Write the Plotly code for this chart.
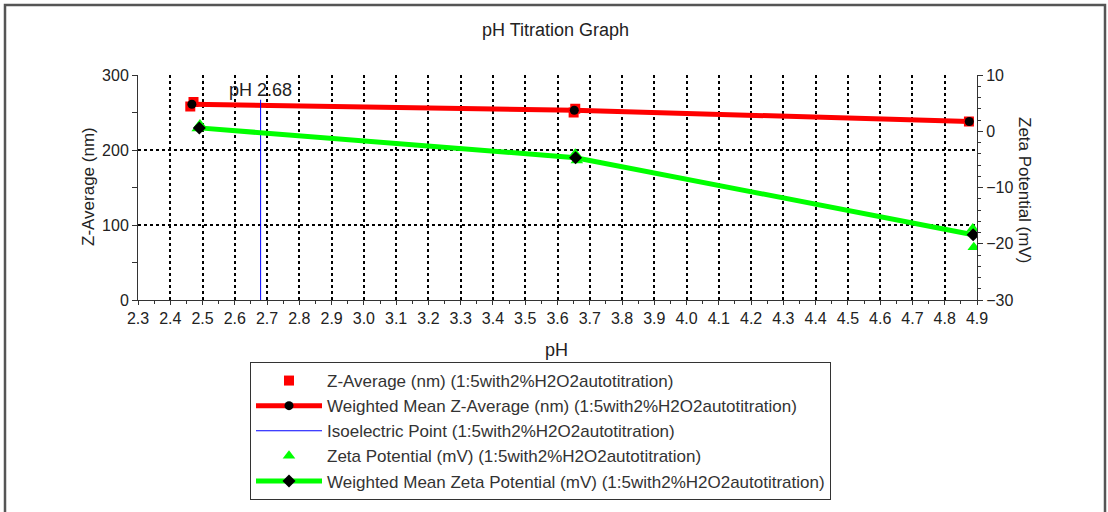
import plotly.graph_objects as go

# ---- data ----
ph_zavg = [2.462, 2.472, 3.650, 3.655, 4.875]
zavg_nm = [258, 264, 250, 255, 238]

ph_wm_z = [2.467, 3.652, 4.876]
wm_z_nm = [261, 253, 238]

iep_ph = 2.68
iep_label = "pH 2.68"

ph_zeta = [2.485, 2.492, 3.655, 3.660, 4.887, 4.890]
zeta_mv = [0.5, 1.2, -4.0, -5.2, -17.3, -20.6]

ph_wm_zeta = [2.490, 3.656, 4.888]
wm_zeta_mv = [0.6, -4.7, -18.4]

x_ticks = [round(2.3 + 0.1 * i, 1) for i in range(27)]
x_ticklabels = [f"{v:.1f}" for v in x_ticks]

FONT = "Liberation Sans, Arial, sans-serif"
TXT = "#222222"
suffix = " (1:5with2%H2O2autotitration)"

fig = go.Figure()

fig.add_trace(go.Scatter(
    x=ph_zavg, y=zavg_nm, mode="markers",
    marker=dict(symbol="square", size=10, color="#ff0000"),
    name="Z-Average (nm)" + suffix, yaxis="y"))

fig.add_trace(go.Scatter(
    x=ph_wm_z, y=wm_z_nm, mode="lines+markers",
    line=dict(color="#ff0000", width=5),
    marker=dict(symbol="circle", size=9, color="#000000"),
    name="Weighted Mean Z-Average (nm)" + suffix, yaxis="y"))

fig.add_trace(go.Scatter(
    x=[iep_ph, iep_ph], y=[0, 267], mode="lines",
    line=dict(color="#0000ff", width=1),
    name="Isoelectric Point" + suffix, yaxis="y"))

fig.add_trace(go.Scatter(
    x=ph_zeta, y=zeta_mv, mode="markers",
    marker=dict(symbol="triangle-up", size=11, color="#00ff00"),
    name="Zeta Potential (mV)" + suffix, yaxis="y2"))

fig.add_trace(go.Scatter(
    x=ph_wm_zeta, y=wm_zeta_mv, mode="lines+markers",
    line=dict(color="#00ff00", width=5),
    marker=dict(symbol="diamond", size=10, color="#000000"),
    name="Weighted Mean Zeta Potential (mV)" + suffix, yaxis="y2"))

grid = dict(showgrid=True, gridcolor="#000000", gridwidth=2, griddash="dot")

PW, PL, PB, PT = 839, 138, 300, 75
PH = PB - PT


def px_x(px):
    return (px - PL) / PW


def px_y(py):
    return (PB - py) / PH


fig.update_layout(
    width=1108, height=512,
    margin=dict(l=138, r=131, t=75, b=212),
    paper_bgcolor="white", plot_bgcolor="white",
    font=dict(family=FONT, size=16, color=TXT),
    showlegend=True,
    xaxis=dict(
        range=[2.3, 4.9], tickvals=x_ticks, ticktext=x_ticklabels,
        showline=True, linecolor="#333333", linewidth=1,
        ticks="outside", ticklen=4, tickcolor="#333333",
        minor=dict(dtick=0.05, tick0=2.3, ticks="outside", ticklen=3, tickcolor="#333333", showgrid=False),
        zeroline=False, tickfont=dict(size=16), **grid),
    yaxis=dict(
        range=[0, 300], tickvals=[0, 100, 200, 300],
        showline=True, linecolor="#333333", linewidth=1,
        ticks="outside", ticklen=5, tickcolor="#333333",
        minor=dict(dtick=50, ticks="outside", ticklen=5, tickcolor="#333333", showgrid=False),
        zeroline=False, tickfont=dict(size=16), **grid),
    yaxis2=dict(
        range=[-30, 10], tickvals=[-30, -20, -10, 0, 10], overlaying="y", side="right",
        showline=True, linecolor="#333333", linewidth=1,
        ticks="outside", ticklen=5, tickcolor="#333333",
        minor=dict(dtick=2, ticks="outside", ticklen=3, tickcolor="#333333", showgrid=False),
        showgrid=False, zeroline=False, tickfont=dict(size=16)),
    legend=dict(
        x=px_x(250), y=px_y(500), xanchor="left", yanchor="bottom",
        bordercolor="#333333", borderwidth=1, bgcolor="white",
        font=dict(size=17, color="#333333"), tracegroupgap=0, itemwidth=66),
    annotations=[
        dict(text="pH Titration Graph", xref="paper", yref="paper", x=px_x(555), y=px_y(30),
             xanchor="center", yanchor="middle", showarrow=False, font=dict(size=18, color=TXT)),
        dict(text="pH", xref="paper", yref="paper", x=px_x(556), y=px_y(350),
             xanchor="center", yanchor="middle", showarrow=False, font=dict(size=18, color=TXT)),
        dict(text="Z-Average (nm)", xref="paper", yref="paper", x=px_x(88), y=px_y(187),
             xanchor="center", yanchor="middle", textangle=-90, showarrow=False, font=dict(size=17, color=TXT)),
        dict(text="Zeta Potential (mV)", xref="paper", yref="paper", x=px_x(1025), y=px_y(190),
             xanchor="center", yanchor="middle", textangle=90, showarrow=False, font=dict(size=17, color=TXT)),
        dict(text=iep_label, x=iep_ph, y=280, xref="x", yref="y",
             xanchor="center", yanchor="middle", showarrow=False, font=dict(size=18, color=TXT)),
    ],
    shapes=[
        dict(type="rect", xref="paper", yref="paper",
             x0=px_x(5), x1=px_x(1105), y0=px_y(530), y1=px_y(5),
             line=dict(color="#555555", width=2.5), fillcolor="rgba(0,0,0,0)", layer="below"),
    ],
)

fig.write_html("out.html")
